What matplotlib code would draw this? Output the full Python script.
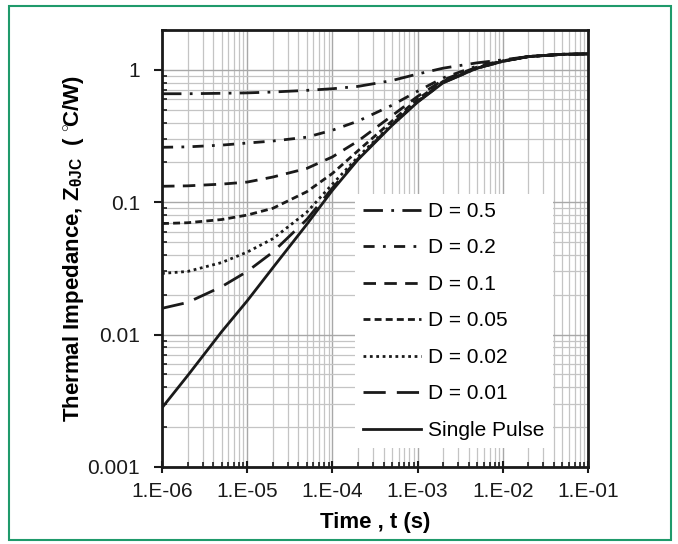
import matplotlib
matplotlib.use("Agg")
import matplotlib.pyplot as plt
from matplotlib.patches import Rectangle
from matplotlib.ticker import LogLocator, NullFormatter, FixedLocator

plt.rcParams['font.family'] = ['Liberation Sans', 'DejaVu Sans']
plt.rcParams['mathtext.fontset'] = 'custom'
plt.rcParams['mathtext.rm'] = 'Liberation Sans'
plt.rcParams['mathtext.it'] = 'Liberation Sans:italic'
plt.rcParams['mathtext.bf'] = 'Liberation Sans:bold'

# time points (s)
time_s = [1e-6, 2e-6, 5e-6, 1e-5, 2e-5, 5e-5, 1e-4, 2e-4, 5e-4,
          1e-3, 2e-3, 5e-3, 1e-2, 2e-2, 5e-2, 1e-1]

# thermal impedance (C/W)
z_d050 = [0.66, 0.66, 0.665, 0.67, 0.68, 0.70, 0.72, 0.75, 0.83,
          0.93, 1.03, 1.13, 1.19, 1.26, 1.31, 1.32]
z_d020 = [0.26, 0.262, 0.27, 0.28, 0.29, 0.31, 0.35, 0.41, 0.54,
          0.69, 0.87, 1.07, 1.17, 1.26, 1.31, 1.32]
z_d010 = [0.132, 0.133, 0.137, 0.142, 0.155, 0.18, 0.22, 0.29, 0.45,
          0.63, 0.84, 1.05, 1.17, 1.26, 1.31, 1.32]
z_d005 = [0.069, 0.070, 0.074, 0.080, 0.090, 0.12, 0.165, 0.245, 0.41,
          0.60, 0.82, 1.04, 1.16, 1.26, 1.31, 1.32]
z_d002 = [0.029, 0.030, 0.035, 0.042, 0.053, 0.084, 0.137, 0.22, 0.39,
          0.58, 0.81, 1.03, 1.16, 1.26, 1.31, 1.32]
z_d001 = [0.0158, 0.0175, 0.023, 0.030, 0.042, 0.074, 0.128, 0.213, 0.385,
          0.575, 0.80, 1.03, 1.16, 1.26, 1.31, 1.32]
z_single = [0.0028, 0.0049, 0.0105, 0.018, 0.032, 0.068, 0.123, 0.21, 0.38,
            0.57, 0.80, 1.03, 1.16, 1.26, 1.31, 1.32]

labels = ['D = 0.5', 'D = 0.2', 'D = 0.1', 'D = 0.05', 'D = 0.02', 'D = 0.01', 'Single Pulse']
series = [z_d050, z_d020, z_d010, z_d005, z_d002, z_d001, z_single]
styles = [(0, (7, 3, 1, 3)), (0, (4, 3, 1, 3)), (0, (4.5, 3)), (0, (2.5, 1.5)),
          (0, (1, 1.3)), (0, (8, 4)), '-']

x_ticks = [1e-6, 1e-5, 1e-4, 1e-3, 1e-2, 1e-1]
x_tick_labels = ['1.E-06', '1.E-05', '1.E-04', '1.E-03', '1.E-02', '1.E-01']
y_ticks = [0.001, 0.01, 0.1, 1]
y_tick_labels = ['0.001', '0.01', '0.1', '1']

fig = plt.figure(figsize=(6.78, 5.44), dpi=100)
ax = fig.add_axes([162 / 678, 77 / 544, 426 / 678, 437 / 544])

for z, lab, ls in zip(series, labels, styles):
    ax.plot(time_s, z, color='#1a1a1a', lw=2.0, ls=ls, label=lab, zorder=3)

ax.set_xscale('log')
ax.set_yscale('log')
ax.set_xlim(1e-6, 1e-1)
ax.set_ylim(0.001, 2)

ax.xaxis.set_major_locator(FixedLocator(x_ticks))
ax.set_xticklabels(x_tick_labels)
ax.yaxis.set_major_locator(FixedLocator(y_ticks))
ax.set_yticklabels(y_tick_labels)
ax.xaxis.set_minor_locator(LogLocator(base=10, subs=range(2, 10)))
ax.yaxis.set_minor_locator(LogLocator(base=10, subs=range(2, 10)))
ax.xaxis.set_minor_formatter(NullFormatter())
ax.yaxis.set_minor_formatter(NullFormatter())

ax.grid(which='major', color='#a8a8a8', lw=1.0, zorder=0)
ax.grid(which='minor', color='#c4c4c4', lw=0.9, zorder=0)
ax.set_axisbelow(True)

for sp in ax.spines.values():
    sp.set_linewidth(2.0)
    sp.set_color('#1a1a1a')

ax.tick_params(axis='x', which='major', direction='inout', length=9, width=1.5,
               labelsize=15, pad=6, colors='#1a1a1a')
ax.tick_params(axis='y', which='major', direction='out', length=6, width=1.5,
               labelsize=15, pad=10, colors='#1a1a1a')
ax.tick_params(which='minor', direction='in', length=3.5, width=1.2, colors='#1a1a1a')

ax.set_xlabel('Time , t (s)', fontsize=16, fontweight='bold', labelpad=8)
ax.set_ylabel(r'Thermal Impedance, Z$_{\mathregular{\theta JC}}$  ( $^{\circ}\!$C/W)',
              fontsize=16, fontweight='bold', labelpad=1)

leg = ax.legend(loc='lower left', bbox_to_anchor=(0.453, 0.043), borderaxespad=0,
                fontsize=15, frameon=True, fancybox=False, framealpha=1,
                handlelength=2.75, handletextpad=0.35, labelspacing=0.84,
                borderpad=0.4)
leg.get_frame().set_facecolor('white')
leg.get_frame().set_edgecolor('none')
leg.set_zorder(5)

fig.patches.append(Rectangle((9 / 678, 4 / 544), 662 / 678, 534 / 544,
                             transform=fig.transFigure, fill=False,
                             edgecolor='#1f9a6b', lw=1.5))

fig.savefig('out.png', dpi=100)
